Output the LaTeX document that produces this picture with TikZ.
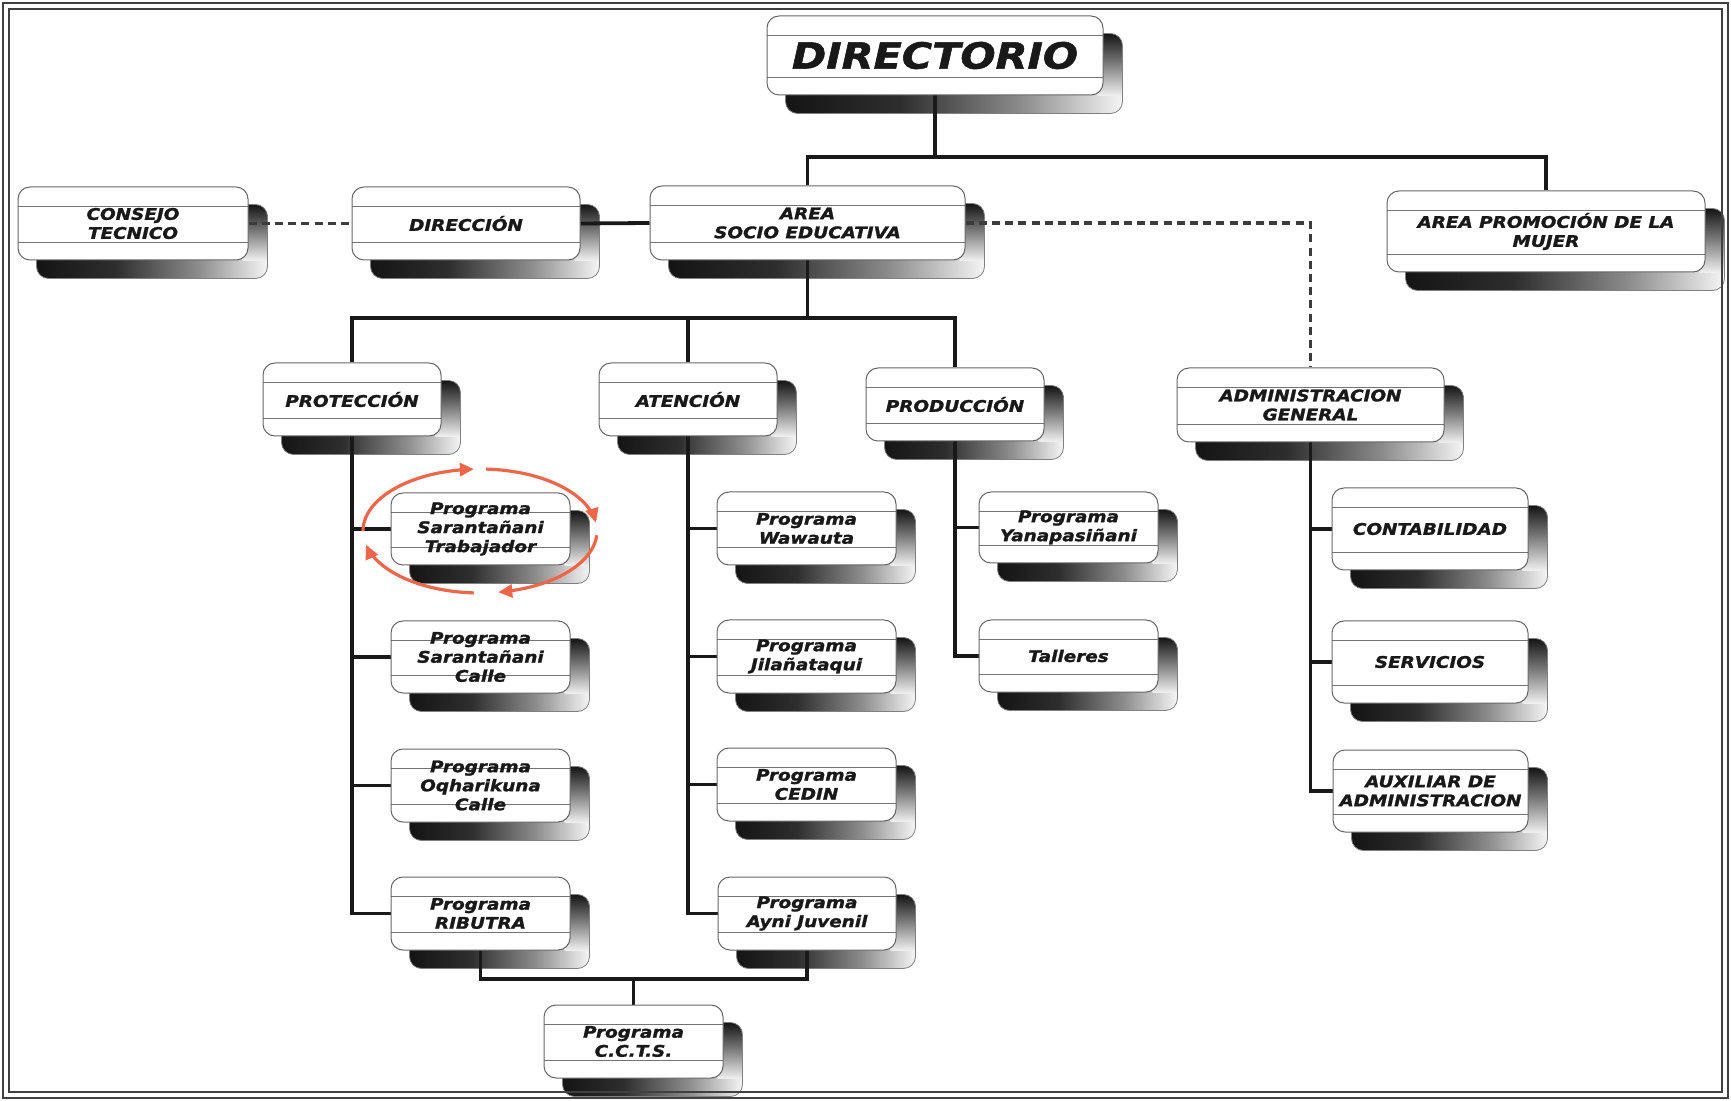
\documentclass[tikz,border=0pt]{standalone}
\usepackage{fontspec}
\newfontfamily\bxfont{DejaVu Sans}[FakeStretch=1.15,BoldItalicFeatures={FakeBold=1.5,FakeStretch=1.15}]
\usetikzlibrary{arrows.meta}
\pgfdeclarelayer{bglayer}
\pgfdeclarelayer{shadowlayer}
\pgfdeclarelayer{linelayer}
\pgfsetlayers{bglayer,shadowlayer,linelayer,main}
\pgfdeclarehorizontalshading{shadh}{100bp}{color(0bp)=(black!92); color(25bp)=(black!92); color(42bp)=(black!82); color(60bp)=(black!45); color(75bp)=(black!4); color(100bp)=(black!4)}
\pgfdeclareverticalshading{shadv}{100bp}{color(0bp)=(black!6); color(25bp)=(black!6); color(50bp)=(black!50); color(75bp)=(black!92); color(100bp)=(black!92)}
\definecolor{arrowred}{RGB}{238,102,72}
\definecolor{ink}{RGB}{25,25,25}
\tikzset{
  obox/.style={draw=black!60, line width=0.5pt, fill=white, rounded corners=6pt, inner sep=0pt,
    align=center, text=ink, font=\bxfont\bfseries\itshape\fontsize{8}{9.5}\selectfont,
    path picture={\draw[black!55, line width=0.45pt]
      ([yshift=-9.5pt]path picture bounding box.north west) -- ([yshift=-9.5pt]path picture bounding box.north east)
      ([yshift=9pt]path picture bounding box.south west) -- ([yshift=9pt]path picture bounding box.south east);}},
  bigfont/.style={font=\bxfont\bfseries\itshape\fontsize{18}{20}\selectfont},
  conn/.style={line width=1.9pt, draw=ink},
  dconn/.style={line width=1.9pt, draw=ink!85, dash pattern=on 4pt off 2.6pt},
  redarc/.style={line width=1.6pt, draw=arrowred, -{Triangle[length=7pt,width=6.5pt]}}
}
\newcommand\shadowbox[1]{%
  \begin{pgfonlayer}{shadowlayer}
    \shade[shading=shadh, rounded corners=6pt] ([shift={(9.5pt,-9pt)}]#1.south west) rectangle ([shift={(9.5pt,-9pt)}]#1.north east);
    \begin{scope}
      \clip[rounded corners=6pt] ([shift={(9.5pt,-9pt)}]#1.south west) rectangle ([shift={(9.5pt,-9pt)}]#1.north east);
      \shade[shading=shadv] ([xshift=-3pt]#1.south east) rectangle ([shift={(9.5pt,-9pt)}]#1.north east);
    \end{scope}
    \draw[black!50, line width=0.4pt, rounded corners=6pt] ([shift={(9.5pt,-9pt)}]#1.south west) rectangle ([shift={(9.5pt,-9pt)}]#1.north east);
  \end{pgfonlayer}}
\newcommand\obox[7][]{%
  \node[obox, #1, minimum width={(#5-#3)*0.5pt}, minimum height={(#6-#4)*0.5pt}] (#2) at ({(#3+#5)/2},{(#4+#6)/2}) {#7};
  \shadowbox{#2}}
\begin{document}
\begin{tikzpicture}[x=0.5pt, y=-0.5pt]
\useasboundingbox (0,0) rectangle (1731,1101);
\begin{pgfonlayer}{bglayer}
\fill[white] (0,0) rectangle (1731,1101);
\end{pgfonlayer}
% frame
\draw[black!75, line width=1.1pt] (3,3) rectangle (1728,1098);
\draw[black!75, line width=1.1pt] (9,9) rectangle (1722,1092);

% boxes
\obox[bigfont]{dir}{767}{16}{1103}{95}{DIRECTORIO}
\obox{consejo}{18}{187}{248}{260}{CONSEJO\\TECNICO}
\obox{direccion}{352}{187}{580}{260}{DIRECCIÓN}
\obox{socio}{650}{186}{965}{260}{AREA\\SOCIO EDUCATIVA}
\obox{mujer}{1387}{191}{1705}{272}{AREA PROMOCIÓN DE LA\\MUJER}
\obox{proteccion}{263}{363}{441}{436}{PROTECCIÓN}
\obox{atencion}{599}{363}{777}{436}{ATENCIÓN}
\obox{produccion}{866}{368}{1044}{441}{PRODUCCIÓN}
\obox{admin}{1177}{368}{1444}{442}{ADMINISTRACION\\GENERAL}
\obox{trab}{391}{493}{570}{565}{Programa\\Sarantañani\\Trabajador}
\obox{scalle}{391}{621}{570}{693}{Programa\\Sarantañani\\Calle}
\obox{oqha}{391}{749}{570}{822}{Programa\\Oqharikuna\\Calle}
\obox{ributra}{391}{877}{570}{950}{Programa\\RIBUTRA}
\obox{wawauta}{717}{492}{896}{565}{Programa\\Wawauta}
\obox{jila}{717}{620}{896}{693}{Programa\\Jilañataqui}
\obox{cedin}{717}{748}{896}{821}{Programa\\CEDIN}
\obox{ayni}{718}{877}{896}{950}{Programa\\Ayni Juvenil}
\obox{yana}{979}{492}{1158}{563}{Programa\\Yanapasiñani}
\obox{talleres}{979}{620}{1158}{692}{Talleres}
\obox{conta}{1332}{488}{1528}{570}{CONTABILIDAD}
\obox{serv}{1332}{621}{1528}{703}{SERVICIOS}
\obox{aux}{1333}{750}{1528}{832}{AUXILIAR DE\\ADMINISTRACION}
\obox{ccts}{544}{1005}{723}{1078}{Programa\\C.C.T.S.}

% connectors
\coordinate (busA) at (0,157);
\coordinate (busB) at (0,318);
\coordinate (busC) at (0,979);
\begin{pgfonlayer}{linelayer}
  \draw[conn] (dir.south) -- (dir.south |- busA);
  \draw[conn] (socio.north) -- (socio.north |- busA) -| (mujer.north);
  \draw[dconn] (consejo.east) -- (direccion.west);
  \draw[conn] (direccion.east) -- (socio.west);
  \draw[dconn] (socio.east) -| (admin.north);
  \draw[conn] (socio.south) -- (socio.south |- busB);
  \draw[conn] (proteccion.north) |- (produccion.north |- busB) -- (produccion.north);
  \draw[conn] (atencion.north) -- (atencion.north |- busB);
  % Proteccion spine
  \draw[conn] (proteccion.south) |- (ributra.west);
  \draw[conn] (proteccion.south |- trab.west) -- (trab.west);
  \draw[conn] (proteccion.south |- scalle.west) -- (scalle.west);
  \draw[conn] (proteccion.south |- oqha.west) -- (oqha.west);
  % Atencion spine
  \draw[conn] (atencion.south) |- (ayni.west);
  \draw[conn] (atencion.south |- wawauta.west) -- (wawauta.west);
  \draw[conn] (atencion.south |- jila.west) -- (jila.west);
  \draw[conn] (atencion.south |- cedin.west) -- (cedin.west);
  % Produccion spine
  \draw[conn] (produccion.south) |- (talleres.west);
  \draw[conn] (produccion.south |- yana.west) -- (yana.west);
  % Admin spine
  \draw[conn] (admin.south) |- (aux.west);
  \draw[conn] (admin.south |- conta.west) -- (conta.west);
  \draw[conn] (admin.south |- serv.west) -- (serv.west);
  % CCTS
  \draw[conn] (ributra.south) |- (ayni.south |- busC) -- (ayni.south);
  \draw[conn] (ccts.north) -- (ccts.north |- busC);
\end{pgfonlayer}

% red cycle arrows
\draw[redarc] plot[domain=180:93, samples=30, smooth] ({480+117*cos(\x)},{531-62*sin(\x)});
\draw[redarc] plot[domain=87:8, samples=30, smooth] ({480+117*cos(\x)},{531-62*sin(\x)});
\draw[redarc] plot[domain=-4:-81, samples=30, smooth] ({480+117*cos(\x)},{531-62*sin(\x)});
\draw[redarc] plot[domain=-93:-167, samples=30, smooth] ({480+117*cos(\x)},{531-62*sin(\x)});
\end{tikzpicture}
\end{document}
